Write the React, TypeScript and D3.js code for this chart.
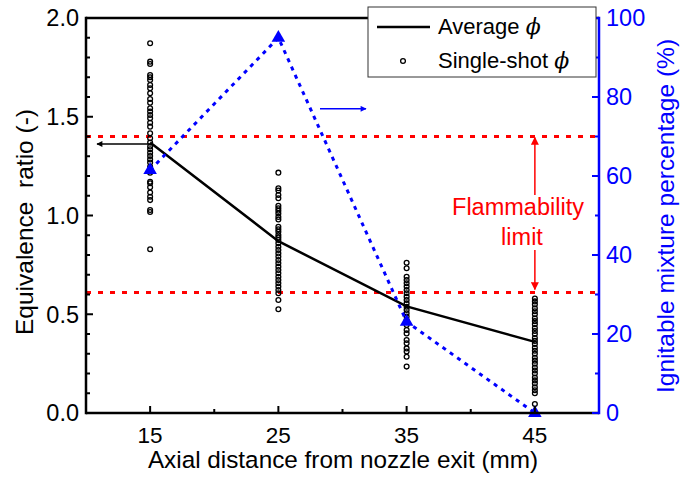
import React from "react";
import * as d3 from "d3";

const positions = [15, 25, 35, 45];
const averagePhi = [1.37, 0.87, 0.54, 0.36];
const ignitablePct = [61.5, 95, 23.1, 0];
const flammabilityLimits = [1.4, 0.61];

const shots15 = [1.872, 1.779, 1.767, 1.711, 1.7, 1.686, 1.661, 1.644, 1.619, 1.59, 1.571, 1.543, 1.526, 1.509, 1.492, 1.47, 1.45, 1.416, 1.391, 1.369, 1.349, 1.335, 1.318, 1.301, 1.284, 1.268, 1.247, 1.217, 1.171, 1.163, 1.143, 1.116, 1.095, 1.078, 1.028, 1.018, 0.829];
const shots25 = [1.217, 1.138, 1.126, 1.104, 1.087, 1.049, 1.037, 1.024, 1.01, 0.993, 0.98, 0.943, 0.93, 0.918, 0.901, 0.889, 0.876, 0.859, 0.842, 0.825, 0.808, 0.792, 0.775, 0.758, 0.741, 0.724, 0.707, 0.69, 0.673, 0.657, 0.64, 0.623, 0.606, 0.572, 0.525];
const shots35 = [0.761, 0.733, 0.69, 0.673, 0.657, 0.64, 0.623, 0.606, 0.589, 0.572, 0.555, 0.538, 0.522, 0.505, 0.488, 0.471, 0.446, 0.42, 0.403, 0.37, 0.353, 0.327, 0.311, 0.285, 0.235];
const shots45 = [0.58, 0.565, 0.55, 0.53, 0.515, 0.5, 0.48, 0.465, 0.45, 0.43, 0.415, 0.4, 0.38, 0.365, 0.35, 0.33, 0.315, 0.3, 0.28, 0.265, 0.25, 0.23, 0.215, 0.2, 0.18, 0.165, 0.15, 0.13, 0.115, 0.1, 0.045];
const shotGroups = [shots15, shots25, shots35, shots45];

const xTicks = [15, 25, 35, 45];
const xMinorTicks = [20, 30, 40];
const yLeftTicks = [0, 0.5, 1.0, 1.5, 2.0];
const yRightTicks = [0, 20, 40, 60, 80, 100];

const W = 681, H = 478;
const L = 86, R = 599, T = 18, B = 413;
const FONT = "'Liberation Sans', Arial, sans-serif";
const BLUE = "#0000ff";
const RED = "#ff0000";

export default function App() {
  const x = d3.scaleLinear().domain([10, 50]).range([L, R]);
  const y = d3.scaleLinear().domain([0, 2]).range([B, T]);
  const yr = d3.scaleLinear().domain([0, 100]).range([B, T]);

  const avgLine = d3.line<number>().x((_, i) => x(positions[i])).y((d) => y(d))(averagePhi) || "";
  const ignLine = d3.line<number>().x((_, i) => x(positions[i])).y((d) => yr(d))(ignitablePct) || "";

  const leftMinor = d3.range(0, 2.0001, 0.1);
  const rightMinor = d3.range(0, 100.001, 10);
  const tri = d3.symbol().type(d3.symbolTriangle).size(80)() || "";

  const flamX = x(45);

  return (
    <svg width={W} height={H} style={{ position: "absolute", left: 0, top: 0, background: "#fff" }} fontFamily={FONT}>
      <defs>
        <marker id="ahBlack" viewBox="0 0 10 10" refX="9" refY="5" markerWidth="9" markerHeight="6" orient="auto" markerUnits="userSpaceOnUse">
          <path d="M0,0 L10,5 L0,10 z" fill="#000" />
        </marker>
        <marker id="ahBlue" viewBox="0 0 10 10" refX="9" refY="5" markerWidth="9" markerHeight="6" orient="auto" markerUnits="userSpaceOnUse">
          <path d="M0,0 L10,5 L0,10 z" fill={BLUE} />
        </marker>
        <marker id="ahRed" viewBox="0 0 10 10" refX="9" refY="5" markerWidth="12" markerHeight="8" orient="auto" markerUnits="userSpaceOnUse">
          <path d="M0,0 L10,5 L0,10 z" fill={RED} />
        </marker>
      </defs>

      {/* flammability limit lines */}
      {flammabilityLimits.map((v, i) => (
        <line key={i} x1={L} x2={R} y1={y(v)} y2={y(v)} stroke={RED} strokeWidth={3} strokeDasharray="5,7" />
      ))}

      {/* scatter */}
      {shotGroups.map((g, gi) =>
        g.map((v, i) => (
          <circle key={gi + "-" + i} cx={x(positions[gi])} cy={y(v)} r={2.4} fill="none" stroke="#000" strokeWidth={1.3} />
        ))
      )}

      {/* average line */}
      <path d={avgLine} fill="none" stroke="#000" strokeWidth={2.5} />

      {/* ignitable line */}
      <path d={ignLine} fill="none" stroke={BLUE} strokeWidth={3} strokeDasharray="4,5" />
      {ignitablePct.map((v, i) => (
        <path key={i} d={tri} transform={`translate(${x(positions[i])},${yr(v)})`} fill={BLUE} />
      ))}

      {/* arrows */}
      <line x1={x(15)} x2={97} y1={y(1.362)} y2={y(1.362)} stroke="#000" strokeWidth={1.5} markerEnd="url(#ahBlack)" />
      <line x1={320} x2={366} y1={yr(77)} y2={yr(77)} stroke={BLUE} strokeWidth={1.5} markerEnd="url(#ahBlue)" />

      {/* flammability annotation */}
      <line x1={flamX} x2={flamX} y1={195} y2={y(flammabilityLimits[0]) + 1} stroke={RED} strokeWidth={1.5} markerEnd="url(#ahRed)" />
      <line x1={flamX} x2={flamX} y1={250} y2={y(flammabilityLimits[1]) - 3} stroke={RED} strokeWidth={1.5} markerEnd="url(#ahRed)" />
      <text x={518} y={215} textAnchor="middle" fontSize={23.5} fill={RED}>Flammability</text>
      <text x={522} y={245} textAnchor="middle" fontSize={23.5} fill={RED}>limit</text>

      {/* axes frame */}
      <line x1={L} x2={R} y1={T} y2={T} stroke="#000" strokeWidth={2.5} />
      <line x1={L} x2={R} y1={B} y2={B} stroke="#000" strokeWidth={2.5} />
      <line x1={L} x2={L} y1={T - 1.25} y2={B + 1.25} stroke="#000" strokeWidth={2.5} />
      <line x1={R} x2={R} y1={T - 1.25} y2={B + 1.25} stroke={BLUE} strokeWidth={2.5} />

      {/* x ticks */}
      {xTicks.map((t) => (
        <g key={t}>
          <line x1={x(t)} x2={x(t)} y1={B} y2={B - 7} stroke="#000" strokeWidth={2} />
          <text x={x(t)} y={443} textAnchor="middle" fontSize={22.5}>{t}</text>
        </g>
      ))}
      {xMinorTicks.map((t) => (
        <line key={t} x1={x(t)} x2={x(t)} y1={B} y2={B - 4} stroke="#000" strokeWidth={2} />
      ))}
      <text x={343} y={468} textAnchor="middle" fontSize={24.3}>Axial distance from nozzle exit (mm)</text>

      {/* left axis */}
      {leftMinor.map((t, i) => (
        <line key={i} x1={L} x2={L + (i % 5 === 0 ? 7 : 4)} y1={y(t)} y2={y(t)} stroke="#000" strokeWidth={2} />
      ))}
      {yLeftTicks.map((t) => (
        <text key={t} x={79} y={y(t)} dy="0.36em" textAnchor="end" fontSize={23.5}>{d3.format(".1f")(t)}</text>
      ))}
      <text transform={`translate(33,222) rotate(-90)`} textAnchor="middle" fontSize={24.5}>{"Equivalence\u00a0 ratio (-)"}</text>

      {/* right axis */}
      {rightMinor.map((t, i) => (
        <line key={i} x1={R} x2={R - (i % 2 === 0 ? 7 : 4)} y1={yr(t)} y2={yr(t)} stroke={BLUE} strokeWidth={2} />
      ))}
      {yRightTicks.map((t) => (
        <text key={t} x={606} y={yr(t)} dy="0.36em" textAnchor="start" fontSize={23.5} fill={BLUE}>{t}</text>
      ))}
      <text transform={`translate(674,216) rotate(-90)`} textAnchor="middle" fontSize={24.5} fill={BLUE}>Ignitable mixture percentage (%)</text>

      {/* legend */}
      <rect x={368} y={7} width={228} height={70} fill="#fff" stroke="#333" strokeWidth={1} />
      <line x1={377} x2={430} y1={27} y2={27} stroke="#000" strokeWidth={2.5} />
      <text x={438} y={34} fontSize={22}>Average <tspan fontFamily="'DejaVu Serif', serif" fontStyle="italic">ϕ</tspan></text>
      <circle cx={403} cy={61} r={2.4} fill="none" stroke="#000" strokeWidth={1.3} />
      <text x={438} y={68} fontSize={22}>Single-shot <tspan fontFamily="'DejaVu Serif', serif" fontStyle="italic">ϕ</tspan></text>
    </svg>
  );
}
